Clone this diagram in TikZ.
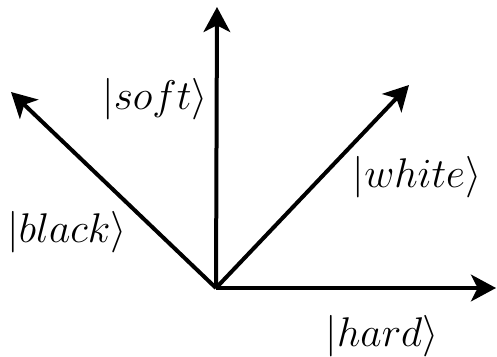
\documentclass[tikz,border=0pt]{standalone}
\usetikzlibrary{arrows.meta}
\begin{document}
\begin{tikzpicture}[x=0.6pt,y=-0.6pt,
  vec/.style={line width=2.4pt,-{Stealth[length=15pt,width=16pt,inset=4pt]}},
  lbl/.style={inner sep=0pt,font=\fontsize{27}{32}\selectfont}]
\useasboundingbox (0,0) rectangle (497,357);
\coordinate (O) at (216,288);
\coordinate (H) at (496,288);
\coordinate (S) at (217,7);
\coordinate (W) at (409,85);
\coordinate (B) at (11,92);
\draw[vec] (O) -- (H);
\draw[vec] (O) -- (S);
\draw[vec] (O) -- (W);
\draw[vec] (O) -- (B);
\node[lbl] (soft) at (155,99) {$|soft\rangle$};
\node[lbl] (white) at (417,177) {$|white\rangle$};
\node[lbl] (black) at (67,232) {$|black\rangle$};
\node[lbl] (hard) at (382,336) {$|hard\rangle$};
\end{tikzpicture}
\end{document}
